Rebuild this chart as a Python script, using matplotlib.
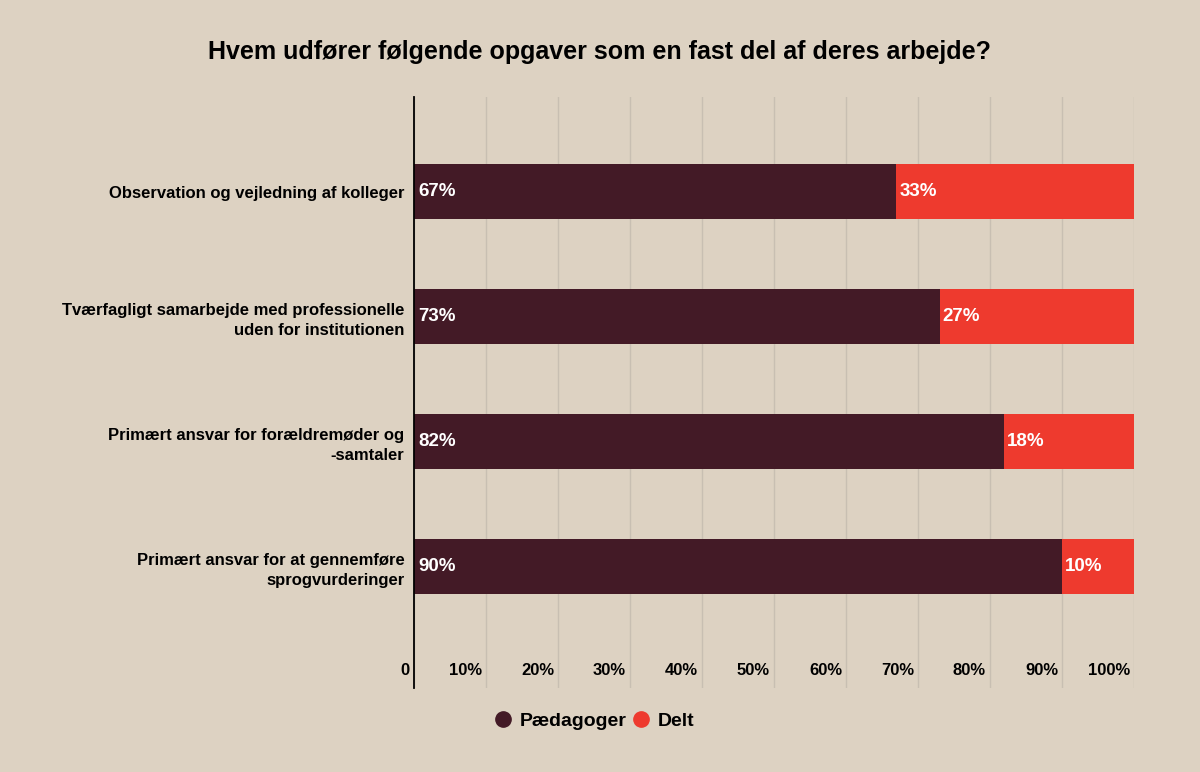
import matplotlib
matplotlib.use('Agg')
import matplotlib.pyplot as plt
from matplotlib.lines import Line2D
from matplotlib.transforms import ScaledTranslation

categories = ['Observation og vejledning af kolleger',
              'Tværfagligt samarbejde med professionelle\nuden for institutionen',
              'Primært ansvar for forældremøder og\n-samtaler',
              'Primært ansvar for at gennemføre\nsprogvurderinger']
paedagoger = [67, 73, 82, 90]
delt = [33, 27, 18, 10]
xticks = [0, 10, 20, 30, 40, 50, 60, 70, 80, 90, 100]
xticklabels = ['0', '10%', '20%', '30%', '40%', '50%', '60%', '70%', '80%', '90%', '100%']

bg = '#ddd2c2'
c_dark = '#431a26'
c_red = '#ee3a2e'

plt.rcParams['font.family'] = ['Liberation Sans', 'DejaVu Sans']

fig = plt.figure(figsize=(12, 7.72), dpi=100, facecolor=bg)
ax = fig.add_axes([0.345, 0.1088, 0.6, 0.7656])
ax.set_facecolor(bg)

y = list(range(len(categories)))
ax.barh(y, paedagoger, height=0.44, color=c_dark, zorder=3)
ax.barh(y, delt, left=paedagoger, height=0.44, color=c_red, zorder=3)

for i in y:
    ax.annotate(f'{paedagoger[i]}%', (0, i), xytext=(3, 0), textcoords='offset points',
                va='center', ha='left', color='white', fontsize=13.5, fontweight='bold',
                zorder=4)
    ax.annotate(f'{delt[i]}%', (paedagoger[i], i), xytext=(2, 0), textcoords='offset points',
                va='center', ha='left', color='white', fontsize=13.5, fontweight='bold',
                zorder=4)

ax.set_xlim(0, 100)
ax.set_ylim(3.97, -0.76)
ax.set_yticks(y)
ax.set_yticklabels(categories, fontsize=12, fontweight='bold', ha='right', linespacing=1.4)
ax.tick_params(axis='y', length=0, pad=7)

ax.set_xticks(xticks)
ax.set_xticklabels(xticklabels, fontsize=12, fontweight='bold')
ax.tick_params(axis='x', length=0, pad=-18)
offset = ScaledTranslation(-4 / 100, 0, fig.dpi_scale_trans)
for lab in ax.get_xticklabels():
    lab.set_ha('right')
    lab.set_transform(lab.get_transform() + offset)

ax.grid(axis='x', color='#c8bfb2', linewidth=1, zorder=0)
for s in ['top', 'right', 'bottom']:
    ax.spines[s].set_visible(False)
ax.spines['left'].set_color('black')
ax.spines['left'].set_linewidth(1.3)
ax.spines['left'].set_zorder(5)

fig.text(0.5, 0.933, 'Hvem udfører følgende opgaver som en fast del af deres arbejde?',
         ha='center', va='center', fontsize=18, fontweight='bold')

handles = [Line2D([], [], marker='o', linestyle='', color=c_dark, markersize=11),
           Line2D([], [], marker='o', linestyle='', color=c_red, markersize=11)]
fig.legend(handles, ['Pædagoger', 'Delt'], loc='center', bbox_to_anchor=(0.495, 0.066),
           ncol=2, frameon=False, handlelength=1.0, handletextpad=0.35, columnspacing=0.25,
           prop={'weight': 'bold', 'size': 14})

fig.savefig('out.png', dpi=100, facecolor=bg)
